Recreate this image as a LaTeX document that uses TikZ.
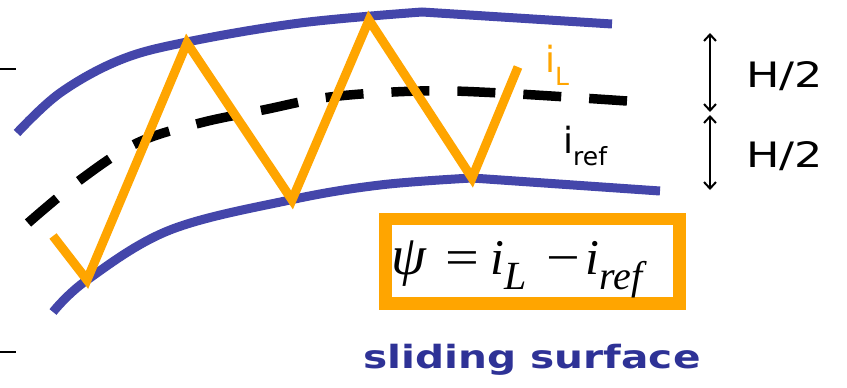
\documentclass[tikz,border=0pt]{standalone}
\usepackage{fontspec}
\usepackage{xcolor}
\usepackage{tikz}
\usetikzlibrary{arrows.meta, positioning, calc}
\setmainfont{DejaVu Sans}
\newfontfamily\eqfont{Liberation Serif}
\definecolor{SMCBandBlue}{RGB}{68, 70, 170}
\definecolor{SMCOrange}{RGB}{255, 165, 0}
\definecolor{SMCTextBlue}{RGB}{46, 50, 150}
\newcommand{\widetext}[1]{\scalebox{1.27}[1]{#1}}
\newcommand{\eqsub}[1]{\raisebox{-15pt}{\fontsize{40}{42}\selectfont\itshape #1}}
\newcommand{\eqop}[1]{\scalebox{1.2}[1]{#1}}

\begin{document}
\begin{tikzpicture}[x=1pt,y=-1pt,
    band/.style={SMCBandBlue, line width=9pt},
    refline/.style={black, line width=9.5pt, dash pattern=on 38pt off 28pt},
    ripple/.style={SMCOrange, line width=9pt, line join=miter},
    halfarrow/.style={{Straight Barb[length=6.5pt,width=12pt]}-{Straight Barb[length=6.5pt,width=12pt]}, line width=2pt},
    lbl/.style={inner sep=0pt, anchor=base west}]
  \path[use as bounding box, fill=white] (0,0) rectangle (847,388);

  % Left ticks
  \draw[line width=1.5pt] (0,69) -- (16,69);
  \draw[line width=1.5pt] (0,352) -- (16,352);

  % Band limits
  \draw[band] plot[smooth, tension=0.6] coordinates {(17,133) (60,93) (120,60) (187,42) (300,23) (422,12)} -- (612,24);
  \draw[band] plot[smooth, tension=0.6] coordinates {(53,312) (87,280) (170,230) (290,200) (380,185) (472,178)} -- (660,191);

  % Reference current
  \draw[refline] plot[smooth, tension=0.6] coordinates {(28,223) (80,180) (137,143) (200,123) (263,110) (330,97) (420,91) (500,93) (627,101)};

  % Inductor current
  \draw[ripple] (53,236) -- (87,280) -- (187,43) -- (292,200) -- (369,20) -- (472,178) -- (518,67);

  % Labels
  \node[lbl, text=SMCOrange, font=\fontsize{36}{40}\selectfont] (iL) at (545,72) {i\raisebox{-13pt}{\fontsize{25}{28}\selectfont L}};
  \node[lbl, font=\fontsize{36}{40}\selectfont] (iref) at (563,153) {i\raisebox{-12pt}{\fontsize{25}{28}\selectfont ref}};

  % Band width arrows
  \coordinate (hTop) at (710,33);
  \coordinate (hMid) at (710,112);
  \coordinate (hMidB) at (710,115);
  \coordinate (hBot) at (710,190);
  \draw[halfarrow] (hTop) -- (hMid);
  \draw[halfarrow] (hMidB) -- (hBot);
  \node[lbl, font=\fontsize{35}{40}\selectfont] (hUp) at (746,87) {\widetext{H/2}};
  \node[lbl, font=\fontsize{35}{40}\selectfont] (hDown) at (746,167) {\widetext{H/2}};

  % Sliding surface equation
  \node[draw=SMCOrange, line width=12.5pt, fill=white, minimum width=294pt, minimum height=84.5pt, inner sep=0pt]
    (eqbox) at (532.5,261.25) {};
  \node[lbl, font=\eqfont\fontsize{50}{54}\selectfont] (psi) at (391,274)
    {{\fontsize{56}{60}\selectfont\itshape ψ}\hspace{20pt}\eqop{=}\hspace{11pt}\textit{i}\eqsub{L}\hspace{20pt}\eqop{−}\hspace{5pt}\textit{i}\eqsub{ref}};
  \node[text=SMCTextBlue, font=\fontsize{32}{36}\selectfont\bfseries, anchor=base] (surface) at (532,368) {\widetext{sliding surface}};
\end{tikzpicture}
\end{document}
